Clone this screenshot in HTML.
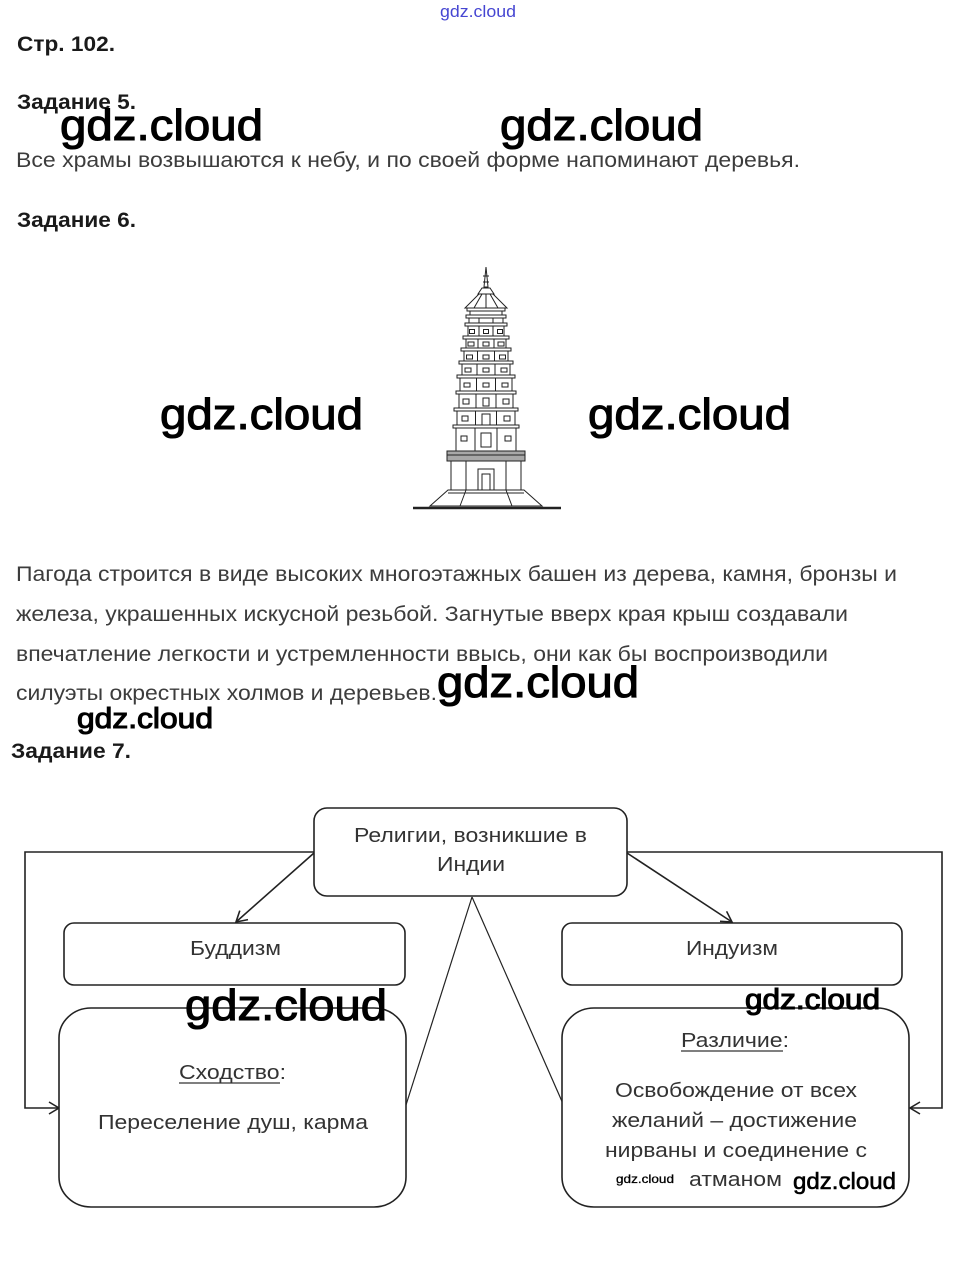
<!DOCTYPE html>
<html><head><meta charset="utf-8">
<style>
html,body{margin:0;padding:0;background:#fff;}
svg{display:block;}
.h{font-family:"Liberation Sans",sans-serif;font-weight:bold;font-size:21px;fill:#1a1a1a;}
.t{font-family:"Liberation Sans",sans-serif;font-size:21px;fill:#3c3c3c;}
.d{font-family:"Liberation Sans",sans-serif;font-size:20px;fill:#333;}
.w{font-family:"Liberation Sans","DejaVu Sans",sans-serif;fill:#000;stroke:#000;stroke-width:1.1;}
.ws{font-family:"Liberation Sans","DejaVu Sans",sans-serif;fill:#000;stroke:#000;stroke-width:0.6;}
.pg rect,.pg polygon,.pg line{stroke:#222;stroke-width:1;fill:#fff;}
.ln{stroke:#222;stroke-width:1.6;fill:none;}
.bx{stroke:#222;stroke-width:1.6;fill:#fff;}
</style></head>
<body>
<svg width="955" height="1276" viewBox="0 0 955 1276" xmlns="http://www.w3.org/2000/svg">
<rect width="955" height="1276" fill="#fff"/>

<text x="440" y="17" font-family="Liberation Sans, sans-serif" font-size="17" style="fill:#4646d2" textLength="76" lengthAdjust="spacingAndGlyphs">gdz.cloud</text>

<text x="17" y="51" class="h" textLength="98" lengthAdjust="spacingAndGlyphs">Стр. 102.</text>
<text x="17" y="109" class="h" textLength="119" lengthAdjust="spacingAndGlyphs">Задание 5.</text>
<text x="16" y="167" class="t" textLength="784" lengthAdjust="spacingAndGlyphs">Все храмы возвышаются к небу, и по своей форме напоминают деревья.</text>
<text x="17" y="227" class="h" textLength="119" lengthAdjust="spacingAndGlyphs">Задание 6.</text>

<g class="pg">
  <polygon points="486,267 488,287 484,287"/>
  <line x1="483" y1="276" x2="489" y2="276"/>
  <line x1="483" y1="282" x2="489" y2="282"/>
  <polygon points="482,288 490,288 494,294 478,294"/>
  <polygon points="479,294 493,294 507,308 465,308"/>
  <line x1="486" y1="294" x2="486" y2="308"/>
  <line x1="482" y1="294" x2="474" y2="308"/>
  <line x1="490" y1="294" x2="498" y2="308"/>

  <rect x="470" y="311" width="32" height="5"/>
  <rect x="467" y="308" width="38" height="3"/>
  <rect x="469" y="318" width="34" height="6"/>
  <rect x="466" y="315" width="40" height="3"/>
  <line x1="479" y1="318" x2="479" y2="324"/><line x1="493" y1="318" x2="493" y2="324"/>
  <rect x="468" y="326" width="36" height="11"/>
  <rect x="465" y="323" width="42" height="3"/>
  <line x1="479" y1="326" x2="479" y2="337"/><line x1="493" y1="326" x2="493" y2="337"/>
  <rect x="469.5" y="329.5" width="5" height="4"/><rect x="483.5" y="329.5" width="5" height="4"/><rect x="497.5" y="329.5" width="5" height="4"/>
  <rect x="466" y="339" width="40" height="10"/>
  <rect x="463" y="336" width="46" height="3"/>
  <line x1="478" y1="339" x2="478" y2="349"/><line x1="494" y1="339" x2="494" y2="349"/>
  <rect x="468" y="342" width="6" height="4"/><rect x="483" y="342" width="6" height="4"/><rect x="498" y="342" width="6" height="4"/>
  <rect x="464" y="351" width="44" height="11"/>
  <rect x="461" y="348" width="50" height="3"/>
  <line x1="477.5" y1="351" x2="477.5" y2="362"/><line x1="494.5" y1="351" x2="494.5" y2="362"/>
  <rect x="466.5" y="355" width="6" height="4"/><rect x="483" y="355" width="6" height="4"/><rect x="499.5" y="355" width="6" height="4"/>
  <rect x="462" y="364" width="48" height="12"/>
  <rect x="459" y="361" width="54" height="3"/>
  <line x1="477" y1="364" x2="477" y2="376"/><line x1="495" y1="364" x2="495" y2="376"/>
  <rect x="465" y="368" width="6" height="4"/><rect x="483" y="368" width="6" height="4"/><rect x="501" y="368" width="6" height="4"/>
  <rect x="460" y="378" width="52" height="14"/>
  <rect x="457" y="375" width="58" height="3"/>
  <line x1="476.5" y1="378" x2="476.5" y2="392"/><line x1="495.5" y1="378" x2="495.5" y2="392"/>
  <rect x="464" y="383" width="6" height="4"/><rect x="483" y="383" width="6" height="4"/><rect x="502" y="383" width="6" height="4"/>
  <rect x="459" y="394" width="54" height="15"/>
  <rect x="456" y="391" width="60" height="3"/>
  <line x1="476" y1="394" x2="476" y2="409"/><line x1="496" y1="394" x2="496" y2="409"/>
  <rect x="463" y="399" width="6" height="5"/><rect x="483" y="398" width="6" height="8"/><rect x="503" y="399" width="6" height="5"/>
  <rect x="457" y="411" width="58" height="15"/>
  <rect x="454" y="408" width="64" height="3"/>
  <line x1="475.5" y1="411" x2="475.5" y2="426"/><line x1="496.5" y1="411" x2="496.5" y2="426"/>
  <rect x="462" y="416" width="6" height="5"/><rect x="482" y="414" width="8" height="11"/><rect x="504" y="416" width="6" height="5"/>
  <rect x="456" y="428" width="60" height="23"/>
  <rect x="453" y="425" width="66" height="3"/>
  <line x1="475" y1="428" x2="475" y2="451"/><line x1="497" y1="428" x2="497" y2="451"/>
  <rect x="461" y="436" width="6" height="5"/><rect x="481" y="433" width="10" height="14"/><rect x="505" y="436" width="6" height="5"/>
  <rect x="447" y="451" width="78" height="10" style="fill:#a8a8a8"/>
  <line x1="447" y1="455" x2="525" y2="455"/>
  <rect x="451" y="461" width="70" height="29"/>
  <line x1="466" y1="461" x2="466" y2="490"/><line x1="506" y1="461" x2="506" y2="490"/>
  <rect x="478" y="469" width="16" height="21"/>
  <rect x="482" y="474" width="8" height="16"/>
  <polygon points="448,490 524,490 542,506 430,506"/>
  <line x1="466" y1="490" x2="460" y2="506"/><line x1="506" y1="490" x2="512" y2="506"/>
  <line x1="448" y1="493" x2="524" y2="493"/>
</g>
<line x1="413" y1="508" x2="561" y2="508" stroke="#222" stroke-width="2.5"/>

<text x="16" y="581" class="t" textLength="881" lengthAdjust="spacingAndGlyphs">Пагода строится в виде высоких многоэтажных башен из дерева, камня, бронзы и</text>
<text x="16" y="621" class="t" textLength="832" lengthAdjust="spacingAndGlyphs">железа, украшенных искусной резьбой. Загнутые вверх края крыш создавали</text>
<text x="16" y="661" class="t" textLength="812" lengthAdjust="spacingAndGlyphs">впечатление легкости и устремленности ввысь, они как бы воспроизводили</text>
<text x="16" y="700" class="t" textLength="421" lengthAdjust="spacingAndGlyphs">силуэты окрестных холмов и деревьев.</text>

<text x="11" y="758" class="h" textLength="120" lengthAdjust="spacingAndGlyphs">Задание 7.</text>

<polyline class="ln" points="314,852 25,852 25,1108 59,1108"/>
<polyline class="ln" points="49,1102 59,1108 49,1114"/>
<polyline class="ln" points="627,852 942,852 942,1108 910,1108"/>
<polyline class="ln" points="920,1102 910,1108 920,1114"/>
<line class="ln" x1="314" y1="853" x2="236" y2="922"/>
<polyline class="ln" points="248,919.6 236,922 239.8,910.6"/>
<line class="ln" x1="627" y1="853" x2="732" y2="922"/>
<polyline class="ln" points="726.6,911.3 732,922 720,921.3"/>
<line x1="472" y1="897" x2="406" y2="1105" stroke="#222" stroke-width="1.2"/>
<line x1="472" y1="897" x2="564" y2="1106" stroke="#222" stroke-width="1.2"/>

<rect class="bx" x="314" y="808" width="313" height="88" rx="13" ry="13"/>
<rect class="bx" x="64" y="923" width="341" height="62" rx="10" ry="10"/>
<rect class="bx" x="562" y="923" width="340" height="62" rx="10" ry="10"/>
<rect class="bx" x="59" y="1008" width="347" height="199" rx="32" ry="30"/>
<rect class="bx" x="562" y="1008" width="347" height="199" rx="32" ry="30"/>

<text x="354" y="842" class="d" textLength="233" lengthAdjust="spacingAndGlyphs">Религии, возникшие в</text>
<text x="437" y="871" class="d" textLength="68" lengthAdjust="spacingAndGlyphs">Индии</text>
<text x="190" y="955" class="d" textLength="91" lengthAdjust="spacingAndGlyphs">Буддизм</text>
<text x="686" y="955" class="d" textLength="92" lengthAdjust="spacingAndGlyphs">Индуизм</text>

<text x="179" y="1079" class="d" textLength="107" lengthAdjust="spacingAndGlyphs">Сходство:</text>
<line x1="179" y1="1083" x2="280" y2="1083" stroke="#333" stroke-width="1.2"/>
<text x="98" y="1129" class="d" textLength="270" lengthAdjust="spacingAndGlyphs">Переселение душ, карма</text>

<text x="681" y="1047" class="d" textLength="108" lengthAdjust="spacingAndGlyphs">Различие:</text>
<line x1="681" y1="1051" x2="783" y2="1051" stroke="#333" stroke-width="1.2"/>
<text x="615" y="1097" class="d" textLength="242" lengthAdjust="spacingAndGlyphs">Освобождение от всех</text>
<text x="612" y="1127" class="d" textLength="245" lengthAdjust="spacingAndGlyphs">желаний – достижение</text>
<text x="605" y="1157" class="d" textLength="262" lengthAdjust="spacingAndGlyphs">нирваны и соединение с</text>
<text x="689" y="1186" class="d" textLength="93" lengthAdjust="spacingAndGlyphs">атманом</text>

<text x="60" y="140" class="w" font-size="44" textLength="203" lengthAdjust="spacingAndGlyphs">gdz.cloud</text>
<text x="500" y="140" class="w" font-size="44" textLength="203" lengthAdjust="spacingAndGlyphs">gdz.cloud</text>
<text x="160" y="429" class="w" font-size="44" textLength="203" lengthAdjust="spacingAndGlyphs">gdz.cloud</text>
<text x="588" y="429" class="w" font-size="44" textLength="203" lengthAdjust="spacingAndGlyphs">gdz.cloud</text>
<text x="437" y="697" class="w" font-size="44" textLength="202" lengthAdjust="spacingAndGlyphs">gdz.cloud</text>
<text x="77" y="728" class="w" font-size="29" textLength="136" lengthAdjust="spacingAndGlyphs">gdz.cloud</text>
<text x="185" y="1020" class="w" font-size="44" textLength="202" lengthAdjust="spacingAndGlyphs">gdz.cloud</text>
<text x="745" y="1009" class="w" font-size="29" textLength="135" lengthAdjust="spacingAndGlyphs">gdz.cloud</text>
<text x="616" y="1183" class="ws" font-size="12" style="stroke-width:0.3" textLength="58" lengthAdjust="spacingAndGlyphs">gdz.cloud</text>
<text x="793" y="1189" class="ws" font-size="23" textLength="103" lengthAdjust="spacingAndGlyphs">gdz.cloud</text>
</svg>
</body></html>
